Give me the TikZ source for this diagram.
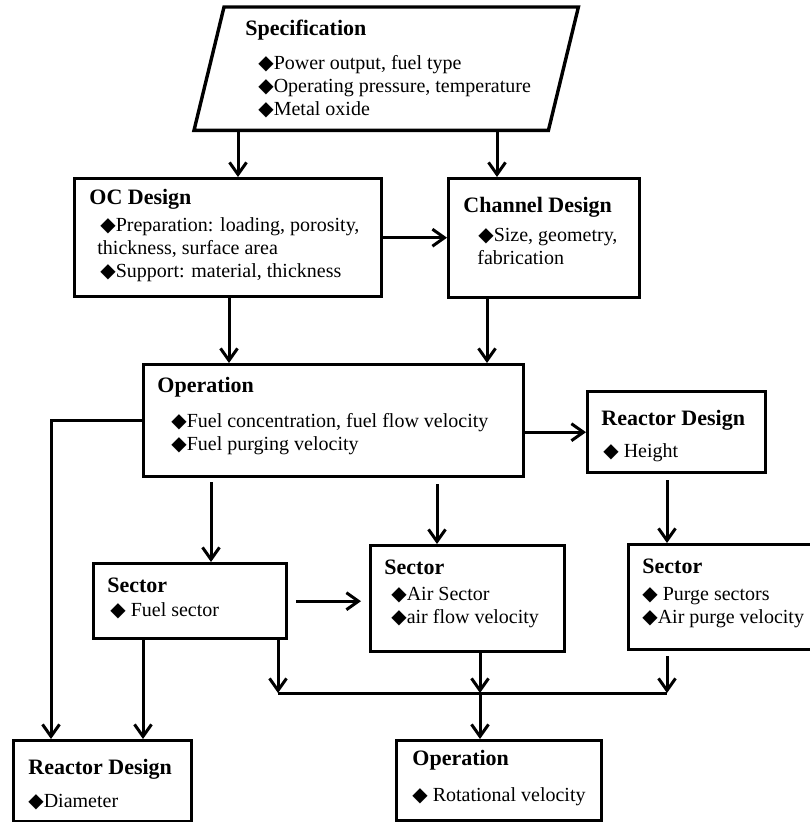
\documentclass[tikz,border=0pt]{standalone}
\usepackage{fontspec}
\setmainfont{Liberation Serif}
\newfontfamily\symfont{DejaVu Sans}
\usetikzlibrary{arrows.meta}
\newcommand{\dmd}{{\symfont\fontsize{10}{10}\selectfont ◆}}
\newcommand{\ttl}[1]{{\fontsize{11}{11}\selectfont\bfseries #1}}
\begin{document}
\begin{tikzpicture}[x=0.5pt,y=-0.5pt,
    box/.style={draw,line width=1.7pt,inner sep=0pt,anchor=north west},
    txt/.style={anchor=base west,align=left,inner sep=0pt,font=\fontsize{10}{11.5}\selectfont},
    arr/.style={line width=1.5pt,-{Straight Barb[length=6pt,width=8.5pt]}}]
    \useasboundingbox (0,0) rectangle (809,822);
    % --- boxes ---
    \node[box,draw=none,minimum width=175.5pt,minimum height=60pt] (spec) at (209,7) {};
    \draw[line width=1.7pt] ([xshift=-7.5pt]spec.south west) -- ([xshift=7.5pt]spec.north west)
        -- ([xshift=7.5pt]spec.north east) -- ([xshift=-7.5pt]spec.south east) -- cycle;
    \node[box,minimum width=153.5pt,minimum height=59pt] (oc) at (73,177) {};
    \node[box,minimum width=95.5pt,minimum height=59.5pt] (chan) at (447,177) {};
    \node[box,minimum width=190pt,minimum height=56pt] (op) at (142,363) {};
    \node[box,minimum width=89pt,minimum height=40.5pt] (rtop) at (586,390) {};
    \node[box,minimum width=96.5pt,minimum height=37.5pt] (fuel) at (92,562) {};
    \node[box,minimum width=97pt,minimum height=53pt] (air) at (369,544) {};
    \node[box,minimum width=94pt,minimum height=52.5pt] (purge) at (627,543) {};
    \node[box,minimum width=89pt,minimum height=40.5pt] (rbot) at (12,739) {};
    \node[box,minimum width=102.5pt,minimum height=40pt] (opb) at (395,739) {};
    % --- texts (placed at the baseline of the last line) ---
    \node[txt] (spec-t) at (245,116) {\ttl{Specification}\\[5.5pt]
        \hspace*{6.5pt}\dmd Power output, fuel type\\
        \hspace*{6.5pt}\dmd Operating pressure, temperature\\
        \hspace*{6.5pt}\dmd Metal oxide};
    \node[txt] (oc-t) at (89,278) {\ttl{OC Design}\\[2pt]
        \hspace*{5.5pt}\dmd Preparation: loading, porosity,\\
        \hspace*{4pt}thickness, surface area\\
        \hspace*{5.5pt}\dmd Support: material, thickness};
    \node[txt] (chan-t) at (463,265) {\ttl{Channel Design}\\[3pt]
        \hspace*{7.5pt}\dmd Size, geometry,\\
        \hspace*{7pt}fabrication};
    \node[txt] (op-t) at (157,451) {\ttl{Operation}\\[6pt]
        \hspace*{7pt}\dmd Fuel concentration, fuel flow velocity\\
        \hspace*{7pt}\dmd Fuel purging velocity};
    \node[txt] (rtop-t) at (601,457) {\ttl{Reactor Design}\\[4.5pt]
        \hspace*{1pt}\dmd\ Height};
    \node[txt] (fuel-t) at (107,616) {\ttl{Sector}\\[0.5pt]
        \hspace*{1.5pt}\dmd\ Fuel sector};
    \node[txt] (air-t) at (384,623) {\ttl{Sector}\\[1.5pt]
        \hspace*{3.5pt}\dmd Air Sector\\
        \hspace*{3.5pt}\dmd air flow velocity};
    \node[txt] (purge-t) at (642,623) {\ttl{Sector}\\[2pt]
        \dmd\ Purge sectors\\
        \dmd Air purge velocity};
    \node[txt] (rbot-t) at (28,807) {\ttl{Reactor Design}\\[5pt]
        \dmd Diameter};
    \node[txt] (opb-t) at (412,801) {\ttl{Operation}\\[6.5pt]
        \dmd\ Rotational velocity};
    % --- connectors ---
    \coordinate (xa) at (238,0);
    \coordinate (xb) at (497,0);
    \coordinate (xc) at (229,0);
    \coordinate (xd) at (487,0);
    \coordinate (xe) at (51,0);
    \coordinate (xf) at (211,0);
    \coordinate (xg) at (437,0);
    \coordinate (xh) at (667,0);
    \coordinate (xi) at (143,0);
    \coordinate (xj) at (278,0);
    \coordinate (xk) at (480,0);
    \coordinate (bus) at (0,693);
    \draw[arr] (spec.south -| xa) -- (oc.north -| xa);
    \draw[arr] (spec.south -| xb) -- (chan.north -| xb);
    \draw[arr] (oc.east) -- (oc.east -| chan.west);
    \draw[arr] (oc.south -| xc) -- (op.north -| xc);
    \draw[arr] (chan.south -| xd) -- (op.north -| xd);
    \draw[arr] (op.west) -| (rbot.north -| xe);
    \draw[arr] (rtop.west -| op.east) -- (rtop.west);
    \draw[arr,shorten <=2pt] (op.south -| xf) -- (fuel.north -| xf);
    \draw[arr,shorten <=3pt] (op.south -| xg) -- (air.north -| xg);
    \draw[arr,shorten <=3pt] (rtop.south -| xh) -- (purge.north -| xh);
    \draw[arr,shorten <=4pt,shorten >=4pt] (fuel.east) -- (fuel.east -| air.west);
    \draw[arr] (fuel.south -| xi) -- (rbot.north -| xi);
    \draw[arr] (fuel.south -| xj) -- (bus -| xj);
    \draw[arr] (air.south -| xk) -- (bus -| xk);
    \draw[arr,shorten <=2.5pt] (purge.south -| xh) -- (bus -| xh);
    \draw[line width=1.5pt] (bus -| xj) -- (bus -| xh);
    \draw[arr] (bus -| xk) -- (opb.north -| xk);
\end{tikzpicture}
\end{document}
